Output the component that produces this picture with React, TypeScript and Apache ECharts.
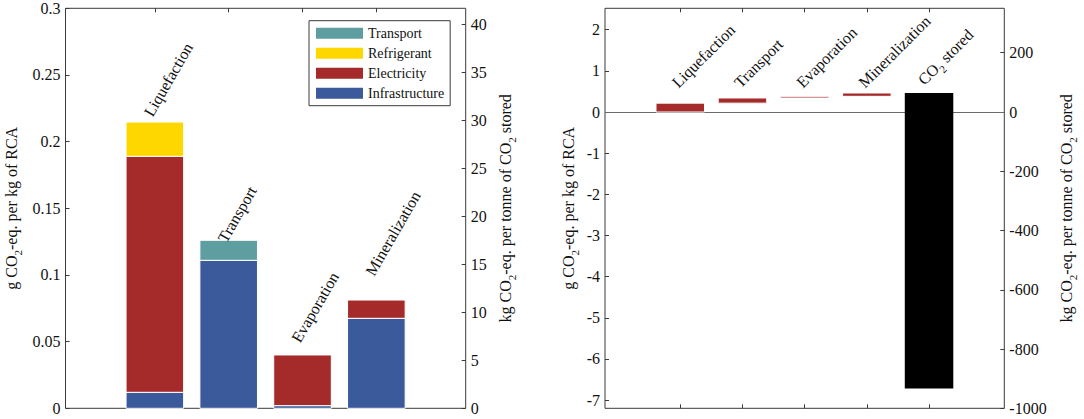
import React, { useEffect, useRef } from 'react';
import * as echarts from 'echarts';

const FONT = "'Liberation Serif', 'Times New Roman', Times, serif";
const TEXT = '#111111';
const LINE = '#3a3a3a';

// ---- Left panel: stacked contributions (g CO2-eq. per kg of RCA)
const stageNames = ['Liquefaction', 'Transport', 'Evaporation', 'Mineralization'];
const infrastructure = [0.012, 0.111, 0.002, 0.0675];
const electricity = [0.177, null, 0.038, 0.0137];
const refrigerant = [0.0257, null, null, null];
const transportPart = [null, 0.015, null, null];
const stageLabelHeights = [0.217, 0.1225, 0.0474, 0.0976];

// ---- Right panel: balance (waterfall)
const balanceNames = ['Liquefaction', 'Transport', 'Evaporation', 'Mineralization', 'CO2 stored'];
const balanceSteps = [0.215, 0.126, 0.04, 0.081];
const co2StoredValue = -7.18;
const balanceLabelHeight = 0.52;

// ---- tick labels
const leftTicks = [0, 0.05, 0.1, 0.15, 0.2, 0.25, 0.3];
const leftSecondaryTicks = [0, 5, 10, 15, 20, 25, 30, 35, 40];
const rightTicks = [-7, -6, -5, -4, -3, -2, -1, 0, 1, 2];
const rightSecondaryTicks = [-1000, -800, -600, -400, -200, 0, 200];

const RATIO = 1000 / 7.2; // kg per tonne CO2 stored  <->  g per kg RCA
const LEFT_RANGE = [0, 0.3];
const RIGHT_RANGE = [-7.2, 2.52];
const BAR_FRACTION = 0.78;

const COLORS: Record<string, string> = {
  Transport: '#5F9EA0',
  Refrigerant: '#FFD700',
  Electricity: '#A52A2A',
  Infrastructure: '#3A5A9B',
};

const rich = {
  n: { fontSize: 16, fontFamily: FONT, color: TEXT, verticalAlign: 'top' },
  s: { fontSize: 11, fontFamily: FONT, color: TEXT, verticalAlign: 'top', padding: [9, 0, 0, 0] },
};
const zrRich = {
  n: { fontSize: 16, fontFamily: FONT, fill: TEXT, verticalAlign: 'top' },
  s: { fontSize: 11, fontFamily: FONT, fill: TEXT, verticalAlign: 'top', padding: [9, 0, 0, 0] },
};

const labelText = (name: string) =>
  name.startsWith('CO2') ? `{n|CO}{s|2}{n|${name.slice(3)}}` : `{n|${name}}`;

function yAxis(gridIndex: number, position: string, min: number, max: number, ticks: number[], name: string, nameGap: number) {
  return {
    type: 'value',
    gridIndex,
    position,
    min,
    max,
    name,
    nameLocation: 'middle',
    nameGap,
    nameRotate: 90,
    nameTextStyle: { fontSize: 16, fontFamily: FONT, color: TEXT, rich },
    axisLine: { show: false, onZero: false },
    splitLine: { show: false },
    axisTick: { show: true, inside: true, length: 4, customValues: ticks, lineStyle: { color: LINE, width: 1 } },
    axisLabel: {
      show: true,
      customValues: ticks,
      formatter: (v: number) => String(v),
      margin: 5,
      fontSize: 16,
      fontFamily: FONT,
      color: TEXT,
    },
  };
}

function xAxis(gridIndex: number, position: string, count: number) {
  const ticks = Array.from({ length: count }, (_, i) => i + 1);
  return {
    type: 'value',
    gridIndex,
    position,
    min: -0.21,
    max: count + 1.21,
    axisLine: { show: false, onZero: false },
    splitLine: { show: false },
    axisLabel: { show: false },
    axisTick: { show: true, inside: true, length: 4, customValues: ticks, lineStyle: { color: LINE, width: 1 } },
  };
}

const barRender = (fill: string, stroke: string | null) => (params: any, api: any) => {
  const x = api.value(0);
  const lo = api.value(1);
  const hi = api.value(2);
  const top = api.coord([x, hi]);
  const bottom = api.coord([x, lo]);
  const w = api.size([BAR_FRACTION, 0])[0];
  return {
    type: 'rect',
    shape: { x: top[0] - w / 2, y: top[1], width: w, height: Math.max(bottom[1] - top[1], 0.01) },
    style: stroke ? { fill, stroke, lineWidth: 1 } : { fill },
  };
};

function buildOption() {
  const layers: [string, (number | null)[]][] = [
    ['Infrastructure', infrastructure],
    ['Electricity', electricity],
    ['Refrigerant', refrigerant],
    ['Transport', transportPart],
  ];
  const running = stageNames.map(() => 0);
  const leftSeries = layers.map(([name, values]) => {
    const data: number[][] = [];
    values.forEach((v, i) => {
      if (v == null) return;
      data.push([i + 1, running[i], running[i] + v]);
      running[i] += v;
    });
    return {
      name,
      type: 'custom',
      xAxisIndex: 0,
      yAxisIndex: 0,
      itemStyle: { color: COLORS[name] },
      encode: { x: 0, y: [1, 2] },
      renderItem: barRender(COLORS[name], '#ffffff'),
      data,
      silent: true,
    };
  });

  const stepData: number[][] = [];
  let acc = 0;
  balanceSteps.forEach((v, i) => {
    stepData.push([i + 1, acc, acc + v]);
    acc += v;
  });
  const storedData = [[balanceNames.length, acc + co2StoredValue, acc]];

  return {
    animation: false,
    backgroundColor: '#ffffff',
    grid: [
      { left: 65.5, top: 8.3, width: 400.2, height: 400, show: true, borderColor: LINE, borderWidth: 1, backgroundColor: 'transparent' },
      { left: 605, top: 8.3, width: 399.3, height: 400, show: true, borderColor: LINE, borderWidth: 1, backgroundColor: 'transparent' },
    ],
    xAxis: [
      xAxis(0, 'bottom', stageNames.length),
      xAxis(0, 'top', stageNames.length),
      xAxis(1, 'bottom', balanceNames.length),
      xAxis(1, 'top', balanceNames.length),
    ],
    yAxis: [
      yAxis(0, 'left', LEFT_RANGE[0], LEFT_RANGE[1], leftTicks, '{n|g CO}{s|2}{n|-eq. per kg of RCA}', 42),
      yAxis(0, 'right', LEFT_RANGE[0] * RATIO, LEFT_RANGE[1] * RATIO, leftSecondaryTicks, '{n|kg CO}{s|2}{n|-eq. per tonne of CO}{s|2}{n| stored}', 32),
      yAxis(1, 'left', RIGHT_RANGE[0], RIGHT_RANGE[1], rightTicks, '{n|g CO}{s|2}{n|-eq. per kg of RCA}', 25),
      yAxis(1, 'right', RIGHT_RANGE[0] * RATIO, RIGHT_RANGE[1] * RATIO, rightSecondaryTicks, '{n|kg CO}{s|2}{n|-eq. per tonne of CO}{s|2}{n| stored}', 54),
    ],
    legend: {
      show: true,
      orient: 'vertical',
      left: 309,
      top: 20.7,
      itemWidth: 47,
      itemHeight: 11,
      itemGap: 6,
      padding: [5.5, 6, 5.5, 7],
      borderColor: LINE,
      borderWidth: 1,
      borderRadius: 0,
      backgroundColor: '#ffffff',
      selectedMode: false,
      icon: 'rect',
      itemStyle: { borderWidth: 0 },
      textStyle: { fontSize: 14, fontFamily: FONT, color: TEXT },
      data: ['Transport', 'Refrigerant', 'Electricity', 'Infrastructure'],
    },
    series: [
      ...leftSeries,
      {
        name: 'balanceSteps',
        type: 'custom',
        xAxisIndex: 2,
        yAxisIndex: 2,
        itemStyle: { color: COLORS.Electricity },
        encode: { x: 0, y: [1, 2] },
        renderItem: barRender(COLORS.Electricity, '#ffffff'),
        data: stepData,
        silent: true,
        z: 3,
      },
      {
        name: 'co2Stored',
        type: 'custom',
        xAxisIndex: 2,
        yAxisIndex: 2,
        itemStyle: { color: '#000000' },
        encode: { x: 0, y: [1, 2] },
        renderItem: barRender('#000000', null),
        data: storedData,
        silent: true,
        z: 3,
      },
      {
        name: 'zeroLine',
        type: 'scatter',
        xAxisIndex: 2,
        yAxisIndex: 2,
        symbolSize: 0,
        data: [],
        silent: true,
        markLine: {
          silent: true,
          symbol: ['none', 'none'],
          label: { show: false },
          lineStyle: { color: '#6a6a6a', width: 1, type: 'solid' },
          data: [{ yAxis: 0 }],
          z: 1,
        },
      },
    ],
  };
}

function buildLabels(chart: any) {
  const elements: any[] = [];
  const add = (finder: any, x: number, y: number, name: string, deg: number) => {
    const p = chart.convertToPixel(finder, [x, y]);
    if (!p) return;
    elements.push({
      type: 'text',
      x: p[0],
      y: p[1],
      rotation: (deg * Math.PI) / 180,
      originX: 0,
      originY: 0,
      silent: true,
      z: 10,
      style: {
        text: labelText(name),
        rich: zrRich,
        fontSize: 16,
        fontFamily: FONT,
        fill: TEXT,
        align: 'left',
        verticalAlign: 'bottom',
      },
    });
  };
  stageNames.forEach((n, i) => add({ xAxisIndex: 0, yAxisIndex: 0 }, i + 1, stageLabelHeights[i], n, 60));
  balanceNames.forEach((n, i) => add({ xAxisIndex: 2, yAxisIndex: 2 }, i + 1, balanceLabelHeight, n, 45));
  return elements;
}

export default function App() {
  const ref = useRef<HTMLDivElement>(null);
  useEffect(() => {
    if (!ref.current) return;
    const chart = echarts.init(ref.current, null, { renderer: 'svg' });
    chart.setOption(buildOption() as any);
    chart.setOption({ graphic: { elements: buildLabels(chart) } } as any);
    return () => chart.dispose();
  }, []);
  return (
    <div
      ref={ref}
      style={{ position: 'fixed', left: 0, top: 0, width: 1084, height: 419, background: '#fff' }}
    />
  );
}
